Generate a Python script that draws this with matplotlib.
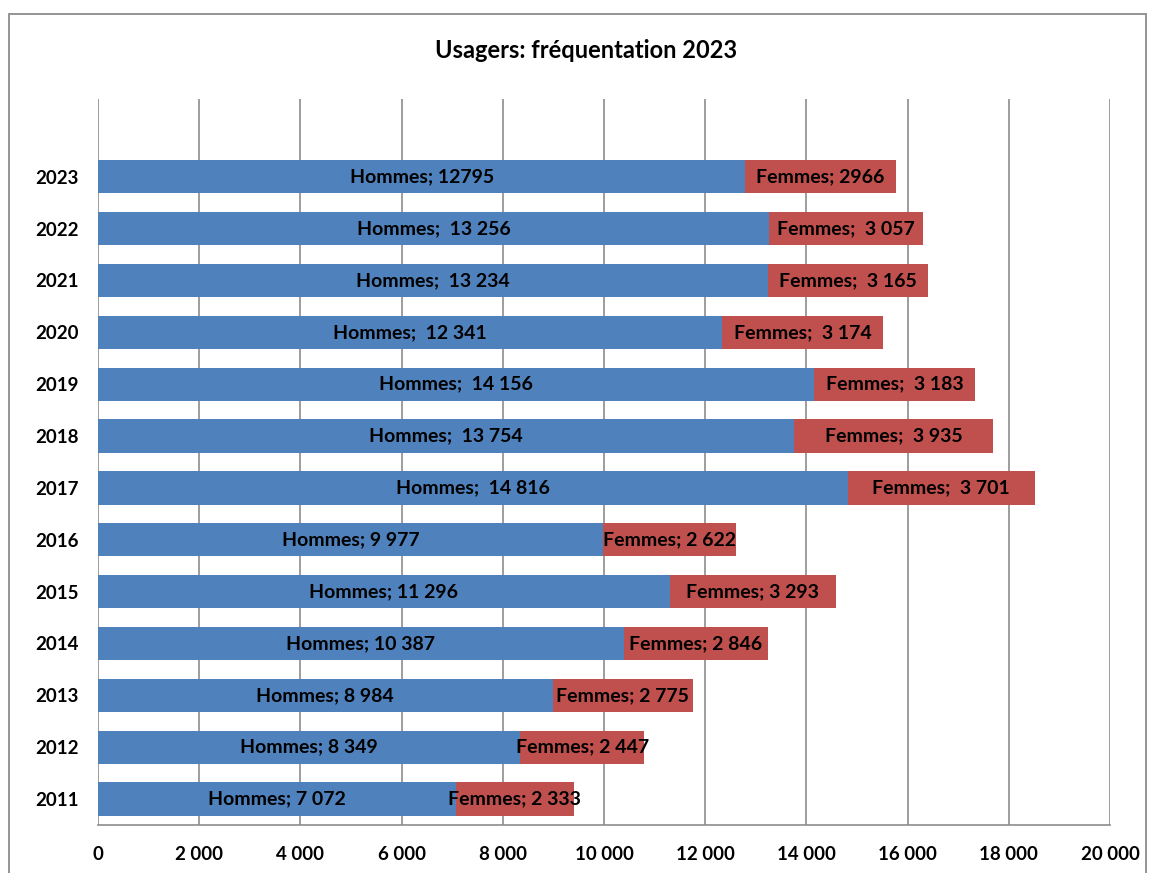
import matplotlib
matplotlib.use("Agg")
import matplotlib.pyplot as plt
from matplotlib.patches import Rectangle

plt.rcParams['font.family'] = ['Lato', 'DejaVu Sans']

years = ['2011', '2012', '2013', '2014', '2015', '2016', '2017',
         '2018', '2019', '2020', '2021', '2022', '2023']
hommes = [7072, 8349, 8984, 10387, 11296, 9977, 14816,
          13754, 14156, 12341, 13234, 13256, 12795]
femmes = [2333, 2447, 2775, 2846, 3293, 2622, 3701,
          3935, 3183, 3174, 3165, 3057, 2966]
hommes_labels = ['Hommes; 7 072', 'Hommes; 8 349', 'Hommes; 8 984', 'Hommes; 10 387',
                 'Hommes; 11 296', 'Hommes; 9 977', 'Hommes;  14 816', 'Hommes;  13 754',
                 'Hommes;  14 156', 'Hommes;  12 341', 'Hommes;  13 234', 'Hommes;  13 256',
                 'Hommes; 12795']
femmes_labels = ['Femmes; 2 333', 'Femmes; 2 447', 'Femmes; 2 775', 'Femmes; 2 846',
                 'Femmes; 3 293', 'Femmes; 2 622', 'Femmes;  3 701', 'Femmes;  3 935',
                 'Femmes;  3 183', 'Femmes;  3 174', 'Femmes;  3 165', 'Femmes;  3 057',
                 'Femmes; 2966']
xticks = list(range(0, 20001, 2000))
xtick_labels = ['0', '2 000', '4 000', '6 000', '8 000', '10 000', '12 000',
                '14 000', '16 000', '18 000', '20 000']
title = 'Usagers: fréquentation 2023'

W, H = 1149, 873
fig = plt.figure(figsize=(W / 100, H / 100), dpi=100)
ax = fig.add_axes([98 / W, 1 - 825 / H, (1110 - 98) / W, (825 - 99) / H])

blue = '#4F81BD'
red = '#C0504D'
grid_c = '#8C8C8C'

pos = list(range(len(years)))
ax.barh(pos, hommes, height=0.64, color=blue, zorder=3)
ax.barh(pos, femmes, left=hommes, height=0.64, color=red, zorder=3)

for i in pos:
    ax.text(hommes[i] / 2, i, hommes_labels[i], ha='center', va='center',
            fontsize=14, fontweight='bold', color='black', zorder=4)
    ax.text(hommes[i] + femmes[i] / 2, i, femmes_labels[i], ha='center', va='center',
            fontsize=14, fontweight='bold', color='black', zorder=4)

ax.set_xlim(0, 20000)
ax.set_ylim(-0.5, 13.5)
ax.set_xticks(xticks)
ax.set_xticklabels(xtick_labels, fontsize=13.5, fontweight='bold')
ax.set_yticks(pos)
ax.set_yticklabels(years, fontsize=13.5, fontweight='bold')
ax.tick_params(axis='both', length=0)
ax.tick_params(axis='x', pad=15)
ax.tick_params(axis='y', pad=14)
ax.xaxis.grid(True, color=grid_c, linewidth=1.2, zorder=0)
ax.set_axisbelow(True)
for s in ['top', 'right', 'left']:
    ax.spines[s].set_visible(False)
ax.spines['bottom'].set_color(grid_c)
ax.spines['bottom'].set_linewidth(1.2)

fig.text(586 / W, 1 - 50 / H, title, ha='center', va='center',
         fontsize=17, fontweight='bold')

fig.patches.append(Rectangle((9 / W, -0.05), (1146 - 9) / W, 1.05 - 14 / H,
                             transform=fig.transFigure, fill=False,
                             edgecolor='#8C8C8C', linewidth=1.3, clip_on=False))

fig.savefig('out.png', dpi=100)
